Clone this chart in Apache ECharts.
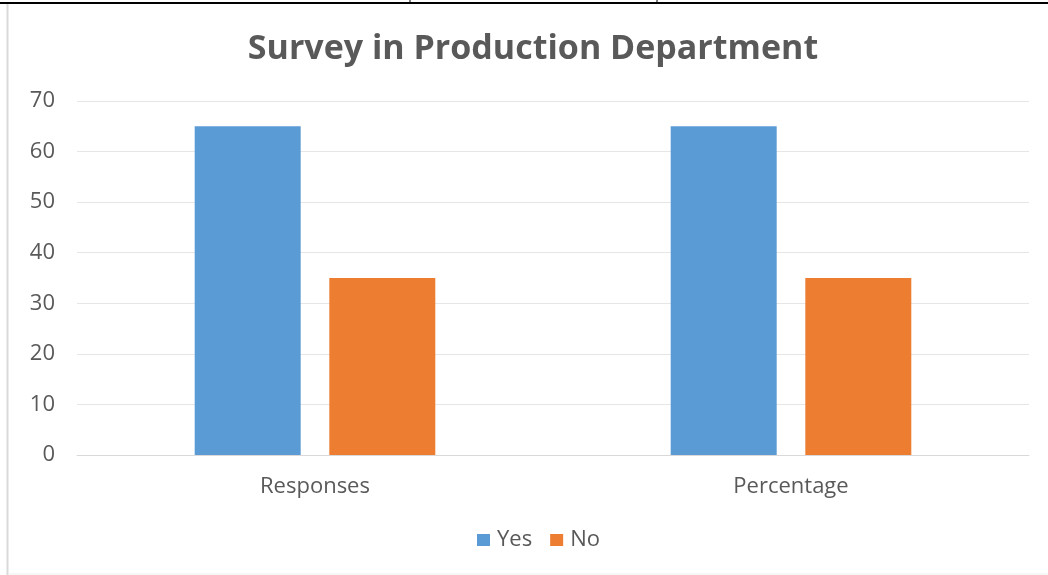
<!DOCTYPE html>
<html>
<head>
<meta charset="utf-8">
<script src="https://cdn.jsdelivr.net/npm/echarts@6/dist/echarts.min.js"></script>
<style>
  html, body { margin: 0; padding: 0; background: #fff; }
  #main { width: 1048px; height: 575px; }
</style>
</head>
<body>
<div id="main"></div>
<script>
const categories = ['Responses', 'Percentage'];
const yesValues = [65, 65];
const noValues = [35, 35];
const yTicks = [0, 10, 20, 30, 40, 50, 60, 70];

var myChart = echarts.init(document.getElementById('main'));
var option = {
  backgroundColor: '#fff',
  textStyle: { fontFamily: 'Open Sans' },
  title: {
    text: 'Survey in Production Department',
    left: 528,
    textAlign: 'center',
    top: 27,
    textStyle: { fontSize: 34, fontWeight: 'bold', color: '#595959', fontFamily: 'Open Sans' }
  },
  graphic: [
    { type: 'line', shape: { x1: 0, y1: 3, x2: 1048, y2: 3 }, style: { stroke: '#000', lineWidth: 2 } },
    { type: 'line', shape: { x1: 410, y1: 0, x2: 410, y2: 4 }, style: { stroke: '#000', lineWidth: 1 } },
    { type: 'line', shape: { x1: 657, y1: 0, x2: 657, y2: 4 }, style: { stroke: '#000', lineWidth: 1 } },
    { type: 'line', shape: { x1: 7.5, y1: 4, x2: 7.5, y2: 575 }, style: { stroke: '#d9d9d9', lineWidth: 2 } },
    { type: 'line', shape: { x1: 8, y1: 574, x2: 1048, y2: 574 }, style: { stroke: '#eeeeee', lineWidth: 1 } }
  ],
  legend: {
    data: ['Yes', 'No'],
    left: 477,
    top: 529,
    padding: 0,
    itemWidth: 13,
    itemHeight: 12,
    itemGap: 18,
    icon: 'rect',
    textStyle: { fontSize: 22, color: '#595959', fontFamily: 'Open Sans', padding: [0, 0, 0, 2] },
    align: 'left'
  },
  grid: { left: 77, right: 19, top: 101, bottom: 120, containLabel: false },
  xAxis: {
    type: 'category',
    data: categories,
    axisTick: { show: false },
    axisLine: { lineStyle: { color: '#d9d9d9', width: 1 } },
    axisLabel: { fontSize: 22, color: '#595959', margin: 21 }
  },
  yAxis: {
    type: 'value',
    min: yTicks[0],
    max: yTicks[yTicks.length - 1],
    interval: 10,
    axisLine: { show: false },
    axisTick: { show: false },
    axisLabel: { fontSize: 22, color: '#595959', margin: 22 },
    splitLine: { lineStyle: { color: '#e6e6e6', width: 1 } }
  },
  series: [
    { name: 'Yes', type: 'bar', data: yesValues, barWidth: 106, barGap: '27%', itemStyle: { color: '#5b9bd5' } },
    { name: 'No', type: 'bar', data: noValues, barWidth: 106, itemStyle: { color: '#ed7d31' } }
  ]
};
myChart.setOption(option);
</script>
</body>
</html>
